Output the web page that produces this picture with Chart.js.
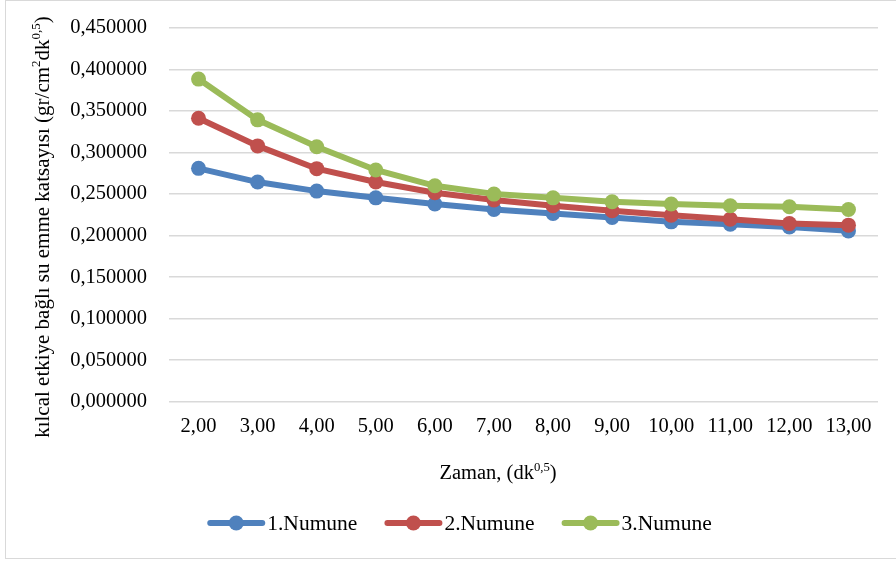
<!DOCTYPE html>
<html>
<head>
<meta charset="utf-8">
<script src="https://cdn.jsdelivr.net/npm/chart.js@4/dist/chart.umd.min.js"></script>
<style>
  html, body { margin: 0; padding: 0; background: #fff; }
  #wrap { width: 896px; height: 563px; position: relative; }
</style>
</head>
<body>
<div id="wrap"><canvas id="c" width="896" height="563"></canvas></div>
<script>
// Time axis categories (dk^0.5)
const categories = ['2,00', '3,00', '4,00', '5,00', '6,00', '7,00', '8,00', '9,00', '10,00', '11,00', '12,00', '13,00'];

// Capillary water absorption coefficient per sample
const numune1 = [0.2810, 0.2645, 0.2536, 0.2455, 0.2380, 0.2315, 0.2267, 0.2219, 0.2166, 0.2138, 0.2105, 0.2057];
const numune2 = [0.3414, 0.3080, 0.2806, 0.2645, 0.2516, 0.2428, 0.2359, 0.2299, 0.2246, 0.2198, 0.2146, 0.2126];
const numune3 = [0.3885, 0.3394, 0.3070, 0.2790, 0.2600, 0.2500, 0.2455, 0.2407, 0.2380, 0.2359, 0.2347, 0.2315];

const seriesNames = ['1.Numune', '2.Numune', '3.Numune'];
const seriesColors = ['#4f81bd', '#c0504d', '#9bbb59'];

const FONT = '"Liberation Serif", "Times New Roman", serif';
const TICK_SIZE = 20.5;

function makeDataset(label, data, color, order) {
  return {
    label, data, order,
    borderColor: color,
    backgroundColor: color,
    pointBackgroundColor: color,
    pointBorderColor: color,
    borderWidth: 6,
    pointRadius: 7.5,
    pointHoverRadius: 7.5,
    pointBorderWidth: 0,
    tension: 0,
    fill: false
  };
}

// Draws text pieces with optional superscripts, starting at x
function drawRich(ctx, parts, x, y, size) {
  let cx = x;
  parts.forEach(p => {
    const s = p.sup ? size * 0.62 : size;
    ctx.font = s + 'px ' + FONT;
    ctx.fillText(p.t, cx, p.sup ? y - size * 0.3 : y);
    cx += ctx.measureText(p.t).width;
  });
}
function richWidth(ctx, parts, size) {
  let w = 0;
  parts.forEach(p => {
    const s = p.sup ? size * 0.62 : size;
    ctx.font = s + 'px ' + FONT;
    w += ctx.measureText(p.t).width;
  });
  return w;
}

const decorations = {
  id: 'decorations',
  beforeDraw(chart) {
    const ctx = chart.ctx;
    ctx.save();
    ctx.fillStyle = '#ffffff';
    ctx.fillRect(0, 0, chart.width, chart.height);
    ctx.strokeStyle = '#d9d9d9';
    ctx.lineWidth = 1;
    ctx.strokeRect(5.5, 0.5, 900, 558);
    ctx.restore();
  },
  afterDraw(chart) {
    const ctx = chart.ctx;
    ctx.save();
    ctx.fillStyle = '#000';
    ctx.textBaseline = 'middle';

    // X axis title
    const xSize = 20.5;
    const xParts = [{ t: 'Zaman, (dk' }, { t: '0,5', sup: true }, { t: ')' }];
    const xw = richWidth(ctx, xParts, xSize);
    drawRich(ctx, xParts, 498 - xw / 2, 474, xSize);

    // Y axis title (rotated)
    const ySize = 21;
    const yParts = [
      { t: 'kılcal etkiye bağlı su emme katsayısı (gr/cm' }, { t: '2', sup: true },
      { t: 'dk' }, { t: '0,5', sup: true }, { t: ')' }
    ];
    const yw = richWidth(ctx, yParts, ySize);
    ctx.save();
    ctx.translate(43, 227);
    ctx.rotate(-Math.PI / 2);
    drawRich(ctx, yParts, -yw / 2, 0, ySize);
    ctx.restore();

    // Legend: line + marker, then label
    const lSize = 21.5;
    ctx.font = lSize + 'px ' + FONT;
    const lineLen = 56, textGap = 3, itemGap = 28;
    const widths = seriesNames.map(n => ctx.measureText(n).width);
    const total = widths.reduce((a, w) => a + lineLen + textGap + w, 0) + itemGap * (seriesNames.length - 1);
    let x = 460 - total / 2;
    const ly = 523;
    seriesNames.forEach((name, i) => {
      ctx.strokeStyle = seriesColors[i];
      ctx.lineWidth = 6;
      ctx.lineCap = 'round';
      ctx.beginPath();
      ctx.moveTo(x + 2, ly);
      ctx.lineTo(x + lineLen - 2, ly);
      ctx.stroke();
      ctx.fillStyle = seriesColors[i];
      ctx.beginPath();
      ctx.arc(x + lineLen / 2, ly, 7.5, 0, Math.PI * 2);
      ctx.fill();
      ctx.fillStyle = '#000';
      ctx.font = lSize + 'px ' + FONT;
      ctx.fillText(name, x + lineLen + textGap, ly + 1);
      x += lineLen + textGap + widths[i] + itemGap;
    });
    ctx.restore();
  }
};

new Chart(document.getElementById('c'), {
  type: 'line',
  data: {
    labels: categories,
    datasets: [
      makeDataset(seriesNames[0], numune1, seriesColors[0], 2),
      makeDataset(seriesNames[1], numune2, seriesColors[1], 1),
      makeDataset(seriesNames[2], numune3, seriesColors[2], 0)
    ]
  },
  options: {
    responsive: false,
    animation: false,
    devicePixelRatio: 1,
    layout: { padding: { top: 28, right: 18, left: 0, bottom: 0 } },
    plugins: {
      legend: { display: false },
      tooltip: { enabled: false },
      title: { display: false }
    },
    scales: {
      x: {
        type: 'category',
        offset: true,
        grid: { display: false, drawTicks: false },
        border: { display: false },
        ticks: {
          color: '#000',
          font: { family: FONT, size: TICK_SIZE },
          padding: 13,
          maxRotation: 0,
          autoSkip: false
        },
        afterFit(scale) { scale.height = 161.3; }
      },
      y: {
        min: 0,
        max: 0.45,
        grid: { color: '#d9d9d9', lineWidth: 1.5, drawTicks: false },
        border: { display: false },
        ticks: {
          stepSize: 0.05,
          color: '#000',
          font: { family: FONT, size: TICK_SIZE },
          padding: 22,
          callback: v => v.toFixed(6).replace('.', ',')
        },
        afterFit(scale) {
          scale.width = 169;
          scale.paddingTop = 0;
          scale.paddingBottom = 0;
        }
      }
    }
  },
  plugins: [decorations]
});
</script>
</body>
</html>
